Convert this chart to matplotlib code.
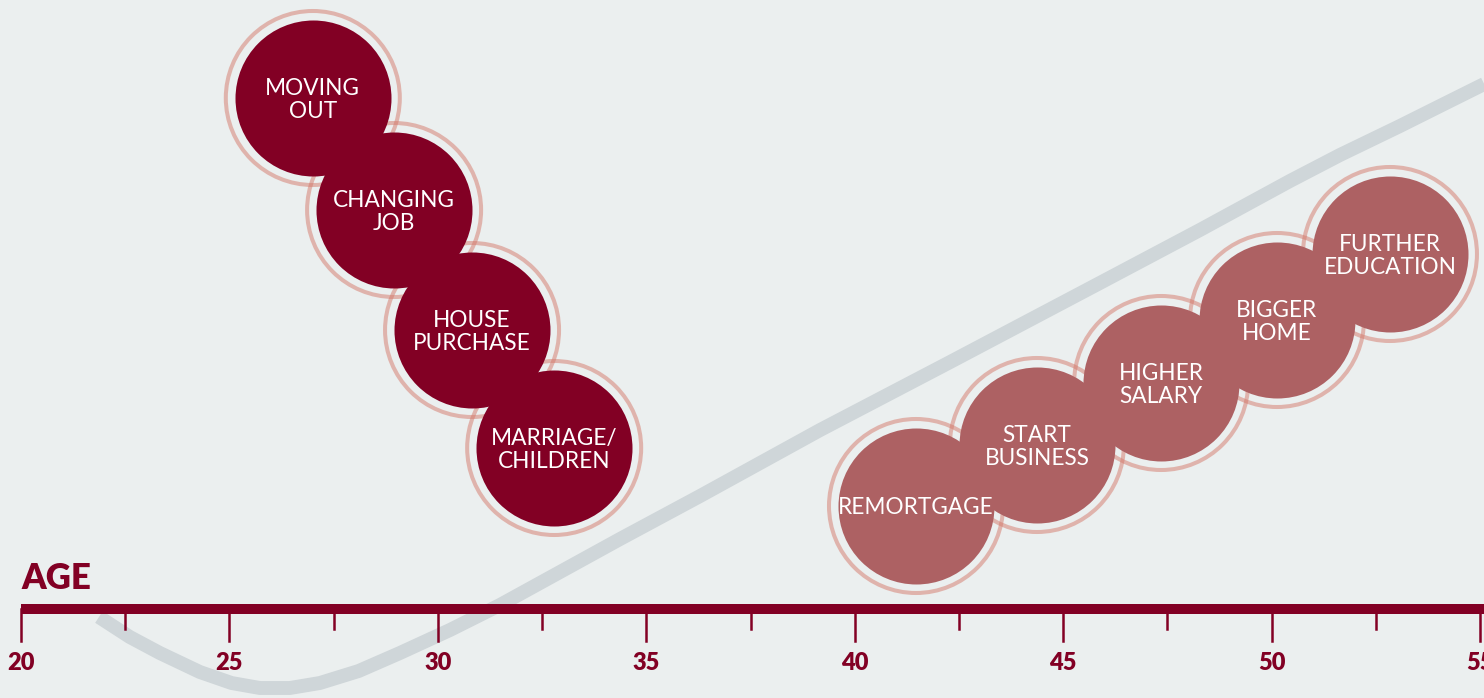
import matplotlib.pyplot as plt
import numpy as np

# life events (age, level) -- level is height above the age axis
early_labels = ['MOVING\nOUT', 'CHANGING\nJOB', 'HOUSE\nPURCHASE', 'MARRIAGE/\nCHILDREN']
early_age = [27.0, 28.95, 30.82, 32.79]
early_level = [511, 399, 279, 161]

later_labels = ['REMORTGAGE', 'START\nBUSINESS', 'HIGHER\nSALARY', 'BIGGER\nHOME', 'FURTHER\nEDUCATION']
later_age = [41.47, 44.37, 47.35, 50.13, 52.84]
later_level = [103, 164, 226, 289, 355]

# wealth curve behind the bubbles
curve_age = [21.87, 22.61, 23.33, 24.29, 25.05, 25.73, 26.45, 27.17, 28.1, 29.09,
             30.29, 31.49, 32.93, 34.37, 36.29, 39.17, 42.29, 45.88, 48.28,
             50.44, 51.64, 53.08, 54.04, 55.1]
curve_level = [-8, -28, -44, -63, -74, -79, -79, -74, -62, -44,
               -21, 4, 37, 70, 113, 179, 247, 326, 379,
               428, 454, 483, 503, 525]

major_ticks = [20, 25, 30, 35, 40, 45, 50, 55]
minor_ticks = [22.5, 27.5, 32.5, 37.5, 42.5, 47.5, 52.5]

BG = '#ebefef'
DARK = '#820024'
LIGHT = '#ad6163'
RING = '#d4786a'
CURVE = '#cfd6d9'

plt.rcParams['font.family'] = ['Lato', 'DejaVu Sans']

fig = plt.figure(figsize=(14.84, 6.98), dpi=100)
fig.patch.set_facecolor(BG)
ax = fig.add_axes([0, 0, 1, 1])
ax.set_facecolor(BG)
ax.set_xlim(19.496, 55.096)
ax.set_ylim(-89, 609)
ax.axis('off')

ax.plot(curve_age, curve_level, color=CURVE, lw=10, solid_capstyle='butt',
        solid_joinstyle='round', zorder=1)


# marker size in points^2 from a diameter in pixels
def s_of(diam_px):
    return (diam_px * 72 / 100) ** 2


def bubble(x, y, label, fill):
    # rings under every fill, semi transparent so crossings look darker
    ax.scatter([x], [y], s=s_of(174), facecolor='none', edgecolor=RING,
               lw=2.9, alpha=0.5, zorder=5)
    ax.scatter([x], [y], s=s_of(156), color=fill, lw=0, zorder=10)
    ax.text(x, y - 2, label, color='white', fontsize=16.3, ha='center',
            va='center', linespacing=1.15, zorder=20)


for i in range(len(early_labels)):
    bubble(early_age[i], early_level[i], early_labels[i], DARK)

for i in range(len(later_labels)):
    bubble(later_age[i], later_level[i], later_labels[i], LIGHT)

# age axis
ax.plot([20, 55.2], [0, 0], color=DARK, lw=7.2, solid_capstyle='butt', zorder=30)
for t in major_ticks:
    ax.plot([t, t], [0, -32], color=DARK, lw=1.8, zorder=30)
    ax.text(t, -54, str(t), color=DARK, fontsize=17, fontweight='heavy',
            ha='center', va='center', zorder=30)
for t in minor_ticks:
    ax.plot([t, t], [0, -20], color=DARK, lw=1.8, zorder=30)

ax.text(20.02, 20, 'AGE', color=DARK, fontsize=25, fontweight='heavy',
        ha='left', va='baseline', zorder=30)

fig.savefig('out.png', dpi=100, facecolor=BG)
